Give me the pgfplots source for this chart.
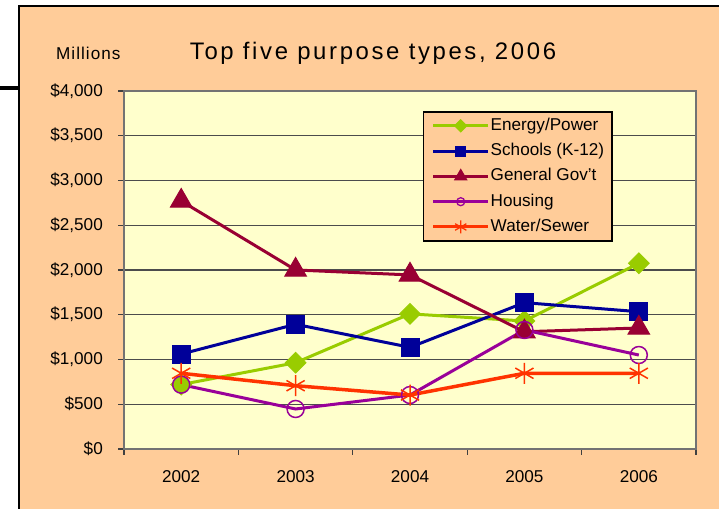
\documentclass[border=0pt]{standalone}
\usepackage{pgfplots}
\pgfplotsset{compat=1.18}
\usepackage{pgfplotstable}
\usepackage{fontspec}
\setmainfont{Liberation Sans}
\newfontfamily\titlefont[LetterSpace=11]{Liberation Sans}
\newfontfamily\millfont[LetterSpace=6]{Liberation Sans}
\definecolor{peach}{HTML}{FFCC99}
\definecolor{plotbg}{HTML}{FFFFCC}
\definecolor{cEnergy}{HTML}{99CC00}
\definecolor{cSchools}{HTML}{000099}
\definecolor{cGen}{HTML}{990033}
\definecolor{cHousing}{HTML}{990099}
\definecolor{cWater}{HTML}{FF3300}

\pgfplotstableread{
x  energy schools general housing water
0.5 720  1061 2771 719  846
1.5 964  1393 2000 447  707
2.5 1510 1136 1945 603  603
3.5 1430 1635 1310 1330 846
4.5 2075 1534 1352 1050 846
}\datatable

\begin{document}
\begin{tikzpicture}[x=1bp,y=1bp]
\useasboundingbox (0,0) rectangle (719,509);
\fill[white] (0,0) rectangle (719,509);
\fill[peach] (19,0) rectangle (719,503);
\draw[line width=2bp] (19,0) -- (19,503) -- (719,503);
\draw[line width=4bp] (0,421) -- (19,421);
\node[anchor=base west, inner sep=0pt, font={\millfont\fontsize{17.2}{20}\selectfont}] at (56,449.5) {Millions};
\node[anchor=base, inner sep=0pt, font={\titlefont\fontsize{24}{28}\selectfont}] at (373,449.7) {Top five purpose types, 2006};
\begin{axis}[
  at={(124bp,60bp)}, anchor=south west, scale only axis,
  width=572bp, height=358bp,
  xmin=0, xmax=5, ymin=0, ymax=4000,
  axis background/.style={fill=plotbg},
  axis line style={draw=black!55, line width=1.8bp},
  xtick={0,1,2,3,4,5}, xticklabels={2002,2003,2004,2005,2006,{}},
  ytick={0,500,...,4000},
  yticklabels={{\$0},{\$500},{\$1,000},{\$1,500},{\$2,000},{\$2,500},{\$3,000},{\$3,500},{\$4,000}},
  xtick pos=bottom, ytick pos=left,
  tick align=outside, major tick length=6bp,
  tick style={draw=black!75, line width=1.3bp},
  ymajorgrids, major grid style={draw=black!70, line width=1.2bp},
  ticklabel style={font=\fontsize{17.2}{20}\selectfont, inner sep=0pt},
  xticklabel style={anchor=base, xshift=57.2bp, yshift=-28bp},
  yticklabel style={anchor=east, xshift=-15bp},
  legend cell align=left,
  legend style={at={(0.5227,0.944)}, anchor=north west, fill=peach, draw=black,
    line width=1.5bp, inner xsep=8bp, inner ysep=6bp, row sep=9.3bp, column sep=1bp,
    font=\fontsize{17.2}{20}\selectfont,
    nodes={inner sep=0pt, text height=12.4bp, text depth=3.6bp}},
  legend image code/.code={\draw[mark repeat=2,mark phase=2,#1] plot coordinates {(0bp,0bp) (27.5bp,0bp) (55bp,0bp)};},
]
\addlegendimage{cEnergy, line width=3bp, mark=square*, mark size=4.3bp, mark options={rotate=45, line width=1bp}}
\addlegendentry{Energy/Power}
\addlegendimage{cSchools, line width=3bp, mark=square*, mark size=5bp, mark options={line width=1bp}}
\addlegendentry{Schools (K-12)}
\addlegendimage{cGen, line width=3bp, mark=triangle*, mark size=7bp, mark options={line width=1bp}}
\addlegendentry{General Gov't}
\addlegendimage{cHousing, line width=3bp, mark=o, mark size=4bp, mark options={line width=1.3bp}}
\addlegendentry{Housing}
\addlegendimage{cWater, line width=3bp, mark=asterisk, mark size=6.5bp, mark options={line width=1.3bp}}
\addlegendentry{Water/Sewer}

\addplot[forget plot, cEnergy, line width=3bp, mark=square*, mark size=7.3bp, mark options={rotate=45, line width=1bp}] table[x=x, y=energy] {\datatable};
\addplot[forget plot, cSchools, line width=3bp, mark=square*, mark size=9bp, mark options={line width=1bp}] table[x=x, y=schools] {\datatable};
\addplot[forget plot, cGen, line width=3bp, mark=triangle*, mark size=12.5bp, mark options={line width=1bp}] table[x=x, y=general] {\datatable};
\addplot[forget plot, cHousing, line width=3bp, mark=o, mark size=8.5bp, mark options={line width=1.5bp}] table[x=x, y=housing] {\datatable};
\addplot[forget plot, cWater, line width=3.5bp, mark=asterisk, mark size=10.5bp, mark options={line width=1.5bp}] table[x=x, y=water] {\datatable};
\end{axis}
\end{tikzpicture}
\end{document}
